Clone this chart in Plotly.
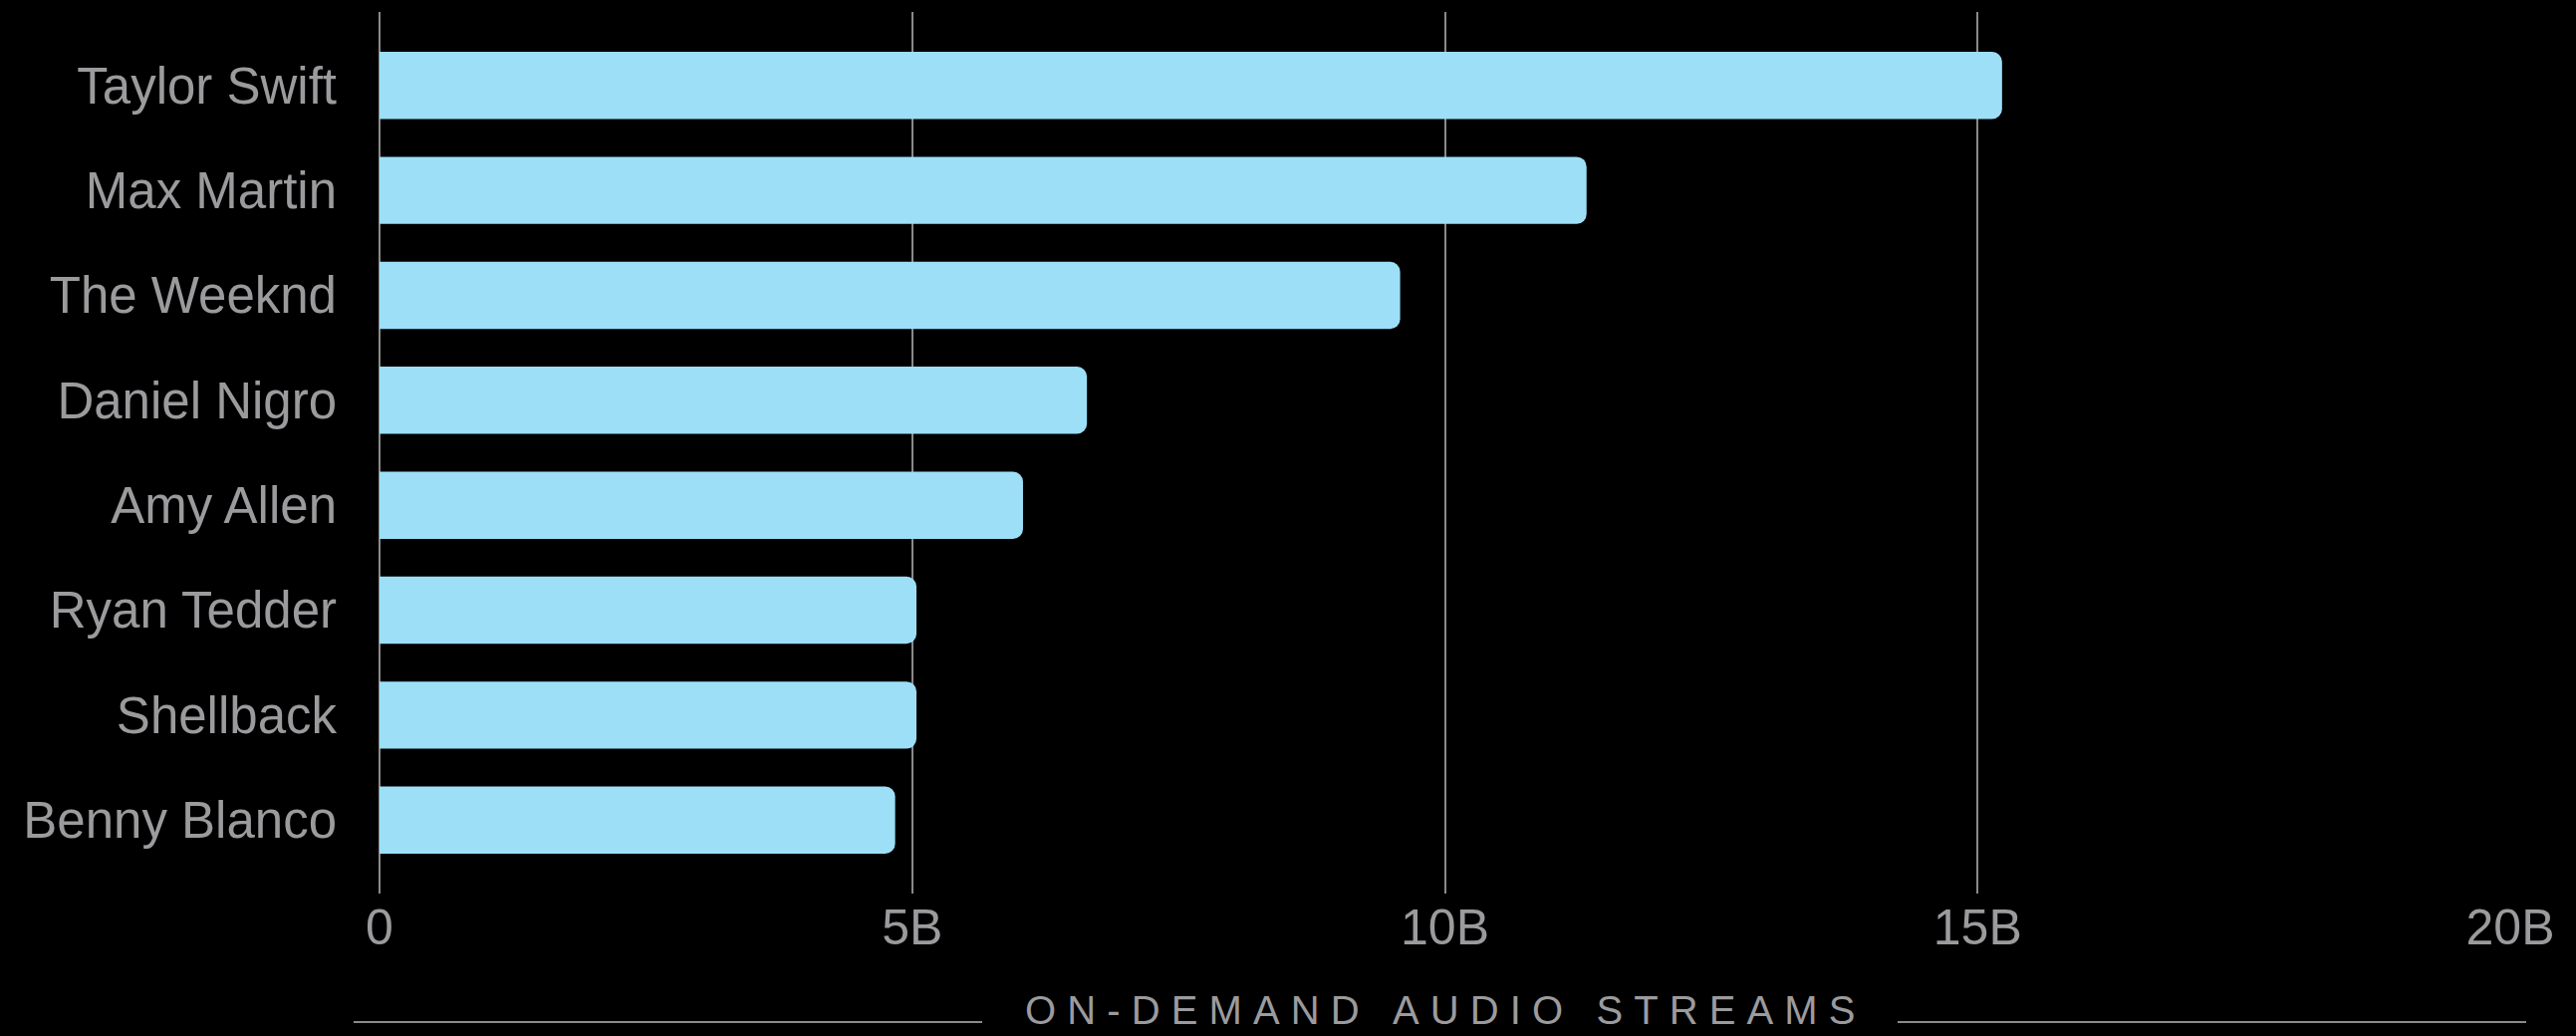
import plotly.graph_objects as go

# Top songwriters by on-demand audio streams
writers = ["Taylor Swift", "Max Martin", "The Weeknd", "Daniel Nigro",
           "Amy Allen", "Ryan Tedder", "Shellback", "Benny Blanco"]
streams = [15.23e9, 11.33e9, 9.58e9, 6.64e9, 6.04e9, 5.04e9, 5.04e9, 4.84e9]

tick_values = [0, 5e9, 10e9, 15e9, 20e9]
tick_labels = ["0", "5B", "10B", "15B", "20B"]

axis_title = "ON-DEMAND AUDIO STREAMS"

W, H = 2586, 1040
M_L, M_R, M_T, M_B = 381, 66, 12, 143
plot_w = W - M_L - M_R
plot_h = H - M_T - M_B

TEXT_GREY = "#9b9b9e"
GRID_GREY = "#8a8a8a"
BAR_BLUE = "#9ddff7"

fig = go.Figure(
    go.Bar(
        x=streams,
        y=writers,
        orientation="h",
        width=0.64,
        marker=dict(color=BAR_BLUE, line=dict(width=0)),
        hovertemplate="%{y}: %{x:.3s}<extra></extra>",
    )
)

# letter-spaced caption: a non-breaking space after every character
NBSP = "\u00a0"
spaced = NBSP.join(NBSP if ch == " " else ch for ch in axis_title)

fig.update_layout(
    width=W,
    height=H,
    margin=dict(l=M_L, r=M_R, t=M_T, b=M_B, pad=0),
    paper_bgcolor="black",
    plot_bgcolor="black",
    barcornerradius=10,
    showlegend=False,
    font=dict(family="Liberation Sans, Arial, sans-serif", color=TEXT_GREY),
    xaxis=dict(
        range=[0, 20e9],
        tickvals=tick_values,
        ticktext=tick_labels,
        showgrid=True,
        gridcolor=GRID_GREY,
        gridwidth=2,
        zeroline=True,
        zerolinecolor=GRID_GREY,
        zerolinewidth=2,
        showline=False,
        ticks="",
        tickfont=dict(size=50, color=TEXT_GREY),
        fixedrange=True,
    ),
    yaxis=dict(
        type="category",
        categoryorder="array",
        categoryarray=writers,
        range=[7.7, -0.7],
        showgrid=False,
        zeroline=False,
        showline=False,
        ticks="",
        ticklabelstandoff=42,
        tickfont=dict(size=51, color=TEXT_GREY),
        fixedrange=True,
    ),
)

# caption below the axis, flanked by rules
cap_y = -(1014 - (H - M_B)) / plot_h
rule_y = -(1026 - (H - M_B)) / plot_h
fig.add_annotation(
    text=spaced,
    xref="paper", yref="paper",
    x=0.4977, y=cap_y,
    xanchor="center", yanchor="middle",
    showarrow=False,
    borderpad=0,
    font=dict(size=40, color=TEXT_GREY),
)
for x0, x1 in [(355, 986), (1905, 2536)]:
    fig.add_shape(
        type="line",
        xref="paper", yref="paper",
        x0=(x0 - M_L) / plot_w, x1=(x1 - M_L) / plot_w,
        y0=rule_y, y1=rule_y,
        line=dict(color=GRID_GREY, width=2),
    )

fig.write_html("out.html", config={"displayModeBar": False})
